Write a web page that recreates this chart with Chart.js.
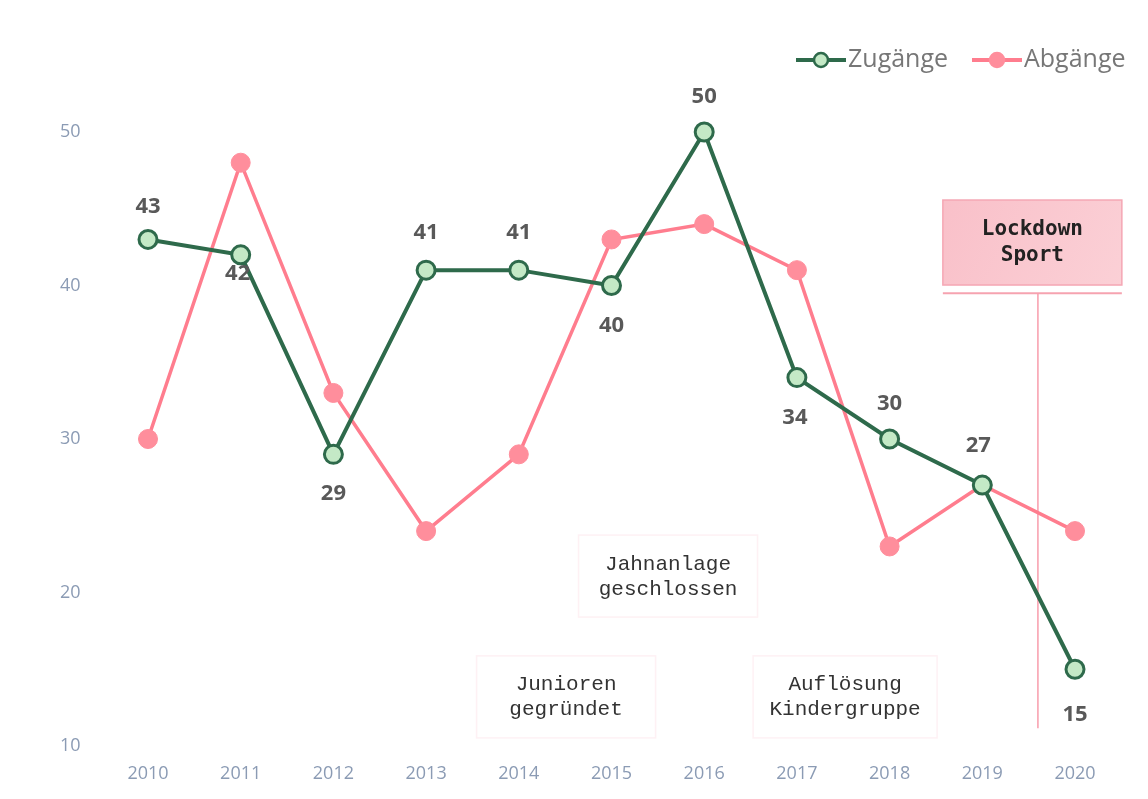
<!DOCTYPE html>
<html>
<head>
<meta charset="utf-8">
<script src="https://cdn.jsdelivr.net/npm/chart.js@4.4.1/dist/chart.umd.min.js"></script>
<style>
  html, body { margin: 0; padding: 0; background: #ffffff; }
  #wrap { width: 1148px; height: 799px; position: relative; }
</style>
</head>
<body>
<div id="wrap"><canvas id="c" width="1148" height="799"></canvas></div>
<script>
// ---- data ----
const years = ['2010','2011','2012','2013','2014','2015','2016','2017','2018','2019','2020'];
const zugaenge = [43, 42, 29, 41, 41, 40, 50, 34, 30, 27, 15];
const abgaenge = [30, 48, 33, 24, 29, 43, 44, 41, 23, 27, 24];
const yTicks = [10, 20, 30, 40, 50];
const seriesNames = ['Zugänge', 'Abgänge'];

// ---- styles ----
const GREEN = '#2e6a4b', GREEN_FILL = '#c4e9c6';
const PINK = '#ff7d8e', PINK_FILL = '#ff8e9c';
const labelOffsets = [-33, 19, 39, -37, -37, 40, -35, 40, -35, -39, 45];
const labelDx = [0, -3, 0, 0, 0, 0, 0, -2, 0, -4, 0];

const notes = [
  { lines: ['Jahnanlage', 'geschlossen'], xi: 5.61, yv: 21.07, w: 179, h: 82 },
  { lines: ['Junioren', 'gegründet'], xi: 4.51, yv: 13.2, w: 179, h: 82 },
  { lines: ['Auflösung', 'Kindergruppe'], xi: 7.52, yv: 13.2, w: 184, h: 82 }
];
const lockdown = { lines: ['Lockdown', 'Sport'], xi: 9.54, yv: 42.8, w: 179, h: 85, lineY: 39.5, lineXi: 9.6, lineBottom: 11.15 };

const overlay = {
  id: 'overlay',
  beforeDatasetsDraw(chart) {
    const ctx = chart.ctx, xs = chart.scales.x, ys = chart.scales.y;
    ctx.save();
    ctx.font = '21px "Liberation Mono", "DejaVu Sans Mono", monospace';
    ctx.textAlign = 'center';
    ctx.textBaseline = 'middle';
    notes.forEach(n => {
      const cx = xs.getPixelForValue(n.xi), cy = ys.getPixelForValue(n.yv);
      ctx.strokeStyle = 'rgba(250, 200, 212, 0.25)';
      ctx.lineWidth = 1.5;
      ctx.strokeRect(cx - n.w / 2, cy - n.h / 2, n.w, n.h);
      ctx.fillStyle = '#333333';
      ctx.fillText(n.lines[0], cx, cy - 12);
      ctx.fillText(n.lines[1], cx, cy + 13);
    });
    const lx = xs.getPixelForValue(lockdown.xi), ly = ys.getPixelForValue(lockdown.yv);
    const bx = lx - lockdown.w / 2, by = ly - lockdown.h / 2;
    const g = ctx.createLinearGradient(bx, by, bx + lockdown.w, by + lockdown.h);
    g.addColorStop(0, '#f9c0c9');
    g.addColorStop(1, '#fbd0d6');
    ctx.fillStyle = g;
    ctx.fillRect(bx, by, lockdown.w, lockdown.h);
    ctx.strokeStyle = '#f5a7b4';
    ctx.lineWidth = 1.5;
    ctx.strokeRect(bx, by, lockdown.w, lockdown.h);
    ctx.fillStyle = '#222222';
    ctx.font = 'bold 21px "DejaVu Sans Mono", monospace';
    ctx.fillText(lockdown.lines[0], lx, ly - 13);
    ctx.fillText(lockdown.lines[1], lx, ly + 13);
    const hy = ys.getPixelForValue(lockdown.lineY);
    ctx.strokeStyle = '#f6a3b0';
    ctx.lineWidth = 2;
    ctx.beginPath();
    ctx.moveTo(bx, hy); ctx.lineTo(bx + lockdown.w, hy);
    ctx.stroke();
    const vx = xs.getPixelForValue(lockdown.lineXi);
    ctx.lineWidth = 1.5;
    ctx.strokeStyle = '#f89cab';
    ctx.beginPath();
    ctx.moveTo(vx, hy); ctx.lineTo(vx, ys.getPixelForValue(lockdown.lineBottom));
    ctx.stroke();
    ctx.restore();
  },
  afterDatasetsDraw(chart) {
    const ctx = chart.ctx;
    ctx.save();
    const meta = chart.getDatasetMeta(0);
    ctx.font = 'bold 22px "Open Sans", "DejaVu Sans", sans-serif';
    ctx.fillStyle = '#595959';
    ctx.textAlign = 'center';
    ctx.textBaseline = 'middle';
    meta.data.forEach((pt, i) => {
      ctx.fillText(String(zugaenge[i]), pt.x + labelDx[i], pt.y + labelOffsets[i]);
    });
    const items = [
      { name: seriesNames[0], x: 796, line: GREEN, fill: GREEN_FILL, border: GREEN },
      { name: seriesNames[1], x: 972, line: PINK, fill: PINK_FILL, border: PINK_FILL }
    ];
    const ly = 60;
    items.forEach(it => {
      ctx.strokeStyle = it.line;
      ctx.lineWidth = 4;
      ctx.beginPath();
      ctx.moveTo(it.x, ly); ctx.lineTo(it.x + 50, ly);
      ctx.stroke();
      ctx.beginPath();
      ctx.arc(it.x + 25, ly, 7, 0, Math.PI * 2);
      ctx.fillStyle = it.fill;
      ctx.fill();
      ctx.lineWidth = 2.5;
      ctx.strokeStyle = it.border;
      ctx.stroke();
      ctx.fillStyle = '#777777';
      ctx.font = '25px "Open Sans", "DejaVu Sans", sans-serif';
      ctx.textAlign = 'left';
      ctx.fillText(it.name, it.x + 52, ly);
    });
    ctx.restore();
  }
};

new Chart(document.getElementById('c'), {
  type: 'line',
  data: {
    labels: years,
    datasets: [
      {
        label: seriesNames[0],
        data: zugaenge,
        borderColor: GREEN,
        borderWidth: 4,
        pointRadius: 9,
        pointBorderWidth: 3,
        pointBackgroundColor: GREEN_FILL,
        pointBorderColor: GREEN,
        tension: 0,
        clip: false
      },
      {
        label: seriesNames[1],
        data: abgaenge,
        borderColor: PINK,
        borderWidth: 3.5,
        pointRadius: 9.5,
        pointBorderWidth: 1,
        pointBackgroundColor: PINK_FILL,
        pointBorderColor: PINK_FILL,
        tension: 0,
        clip: false
      }
    ]
  },
  options: {
    responsive: false,
    animation: false,
    events: [],
    layout: { padding: { top: 132, right: 73, bottom: 0, left: 60 } },
    plugins: { legend: { display: false }, tooltip: { enabled: false } },
    scales: {
      x: {
        type: 'category',
        offset: false,
        grid: { display: false, drawTicks: false },
        border: { display: false },
        ticks: { color: '#8b9bb4', font: { family: '"Open Sans", sans-serif', size: 18 }, padding: 17, maxRotation: 0, autoSkip: false },
        afterFit(s) { s.height = 53; }
      },
      y: {
        type: 'linear',
        min: 10,
        max: 50,
        grid: { display: false, drawTicks: false },
        border: { display: false },
        afterBuildTicks(s) { s.ticks = yTicks.map(v => ({ value: v })); },
        ticks: { color: '#8b9bb4', font: { family: '"Open Sans", sans-serif', size: 18 }, padding: 4, crossAlign: 'far' },
        afterFit(s) { s.width = 88; }
      }
    }
  },
  plugins: [overlay]
});
</script>
</body>
</html>
